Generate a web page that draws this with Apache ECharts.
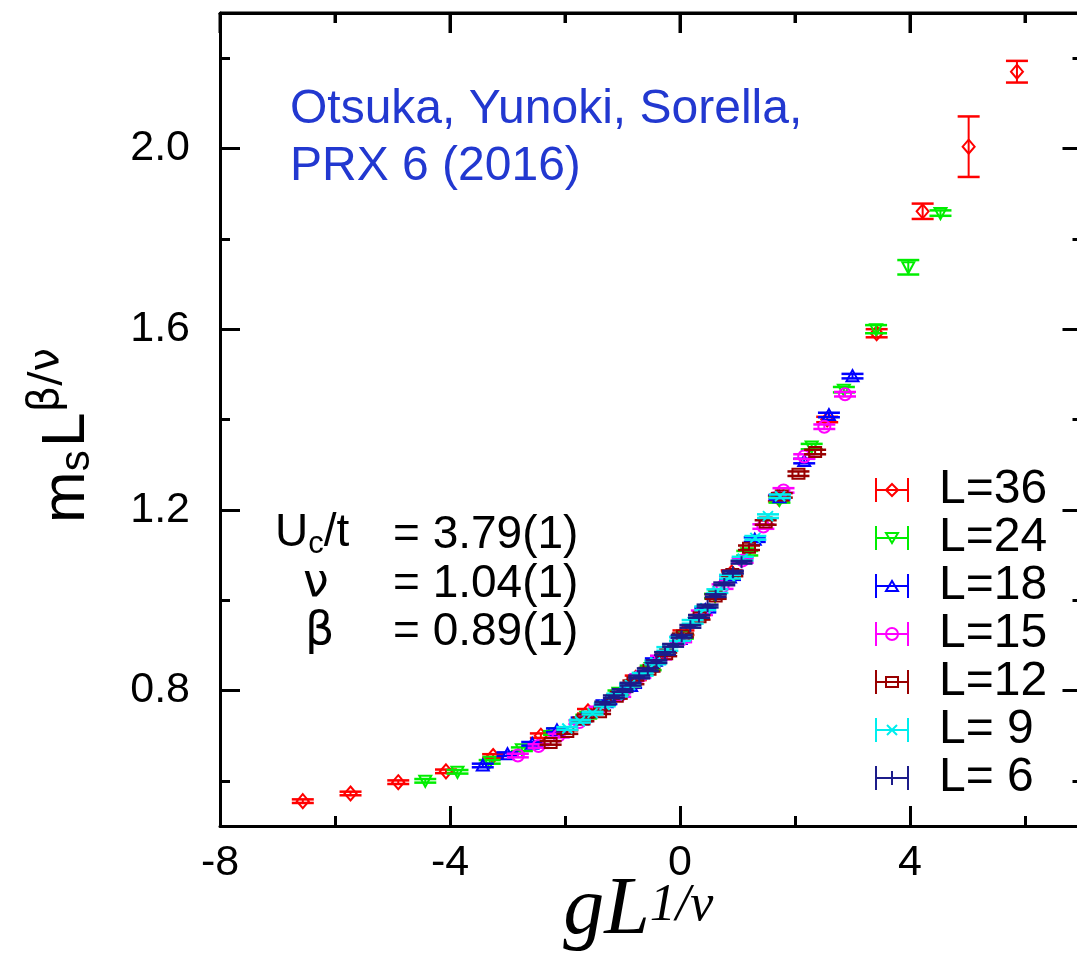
<!DOCTYPE html>
<html>
<head>
<meta charset="utf-8">
<script src="https://cdn.jsdelivr.net/npm/echarts@6/dist/echarts.min.js"></script>
<style>
  html, body { margin: 0; padding: 0; background: #fff; }
  #main { width: 1077px; height: 960px; }
</style>
</head>
<body>
<div id="main"></div>
<script>
// tick positions
const xMajorTicks = [-8, -4, 0, 4];
const xMinorTicks = [-6, -2, 2, 6];
const yMajorTicks = [0.8, 1.2, 1.6, 2.0];
const yMinorTicks = [0.6, 1.0, 1.4, 1.8, 2.2];

// L=36
const x36 = [-6.56, -5.73, -4.90, -4.07, -3.25, -2.42, -1.60, -0.77, 0.06, 0.90, 1.72, 2.56, 3.42, 4.22, 5.02, 5.86];
const y36 = [0.555, 0.572, 0.597, 0.621, 0.655, 0.700, 0.754, 0.828, 0.928, 1.061, 1.225, 1.400, 1.591, 1.861, 2.004, 2.170];
const e36 = [0.004, 0.004, 0.004, 0.004, 0.004, 0.005, 0.005, 0.005, 0.005, 0.005, 0.006, 0.006, 0.009, 0.017, 0.067, 0.024];
// L=24
const x24 = [-4.43, -3.87, -3.31, -2.75, -2.19, -1.63, -1.07, -0.51, 0.05, 0.61, 1.17, 1.73, 2.29, 2.85, 3.41, 3.97, 4.53];
const y24 = [0.600, 0.620, 0.642, 0.670, 0.706, 0.742, 0.795, 0.850, 0.920, 1.009, 1.104, 1.222, 1.340, 1.466, 1.600, 1.737, 1.857];
const e24 = [0.004, 0.004, 0.004, 0.004, 0.004, 0.004, 0.005, 0.005, 0.005, 0.005, 0.005, 0.006, 0.006, 0.006, 0.009, 0.016, 0.006];
// L=18
const x18 = [-3.43, -3.00, -2.57, -2.14, -1.71, -1.28, -0.85, -0.42, 0.01, 0.44, 0.87, 1.30, 1.73, 2.16, 2.59, 3.00];
const y18 = [0.634, 0.659, 0.682, 0.712, 0.736, 0.774, 0.810, 0.866, 0.914, 0.978, 1.050, 1.134, 1.228, 1.308, 1.410, 1.496];
const e18 = [0.004, 0.004, 0.004, 0.004, 0.004, 0.004, 0.004, 0.005, 0.005, 0.005, 0.005, 0.005, 0.005, 0.005, 0.005, 0.005];
// L=15
const x15 = [-2.82, -2.46, -2.11, -1.75, -1.40, -1.04, -0.69, -0.33, 0.02, 0.38, 0.74, 1.09, 1.45, 1.80, 2.16, 2.51, 2.87];
const y15 = [0.656, 0.677, 0.700, 0.730, 0.760, 0.790, 0.832, 0.873, 0.912, 0.972, 1.030, 1.088, 1.163, 1.243, 1.318, 1.384, 1.456];
const e15 = [0.004, 0.004, 0.004, 0.004, 0.004, 0.004, 0.004, 0.004, 0.005, 0.005, 0.005, 0.005, 0.005, 0.005, 0.005, 0.005, 0.005];
// L=12
const x12 = [-2.25, -1.96, -1.68, -1.39, -1.10, -0.81, -0.53, -0.24, 0.05, 0.34, 0.62, 0.91, 1.20, 1.49, 1.77, 2.06, 2.35];
const y12 = [0.684, 0.708, 0.736, 0.752, 0.786, 0.818, 0.846, 0.880, 0.922, 0.962, 1.008, 1.058, 1.116, 1.172, 1.232, 1.280, 1.328];
const e12 = [0.004, 0.004, 0.004, 0.004, 0.004, 0.004, 0.004, 0.004, 0.004, 0.005, 0.005, 0.005, 0.005, 0.005, 0.005, 0.005, 0.005];
// L=9
const x9 = [-1.96, -1.74, -1.52, -1.31, -1.09, -0.87, -0.65, -0.43, -0.22, 0.00, 0.22, 0.44, 0.65, 0.87, 1.09, 1.31, 1.53, 1.74];
const y9 = [0.716, 0.732, 0.750, 0.768, 0.790, 0.812, 0.836, 0.862, 0.892, 0.914, 0.952, 0.982, 1.020, 1.052, 1.092, 1.138, 1.186, 1.230];
const e9 = [0.003, 0.003, 0.003, 0.003, 0.003, 0.003, 0.003, 0.004, 0.004, 0.004, 0.004, 0.004, 0.004, 0.004, 0.004, 0.004, 0.004, 0.004];
// L=6
const x6 = [-1.30, -1.15, -1.00, -0.86, -0.71, -0.56, -0.41, -0.26, -0.12, 0.03, 0.18, 0.33, 0.48, 0.62, 0.77, 0.92, 1.07];
const y6 = [0.772, 0.786, 0.800, 0.814, 0.830, 0.846, 0.864, 0.882, 0.900, 0.920, 0.942, 0.964, 0.987, 1.010, 1.036, 1.062, 1.084];
const e6 = [0.003, 0.003, 0.003, 0.003, 0.003, 0.003, 0.003, 0.003, 0.003, 0.003, 0.003, 0.003, 0.003, 0.003, 0.003, 0.003, 0.003];

const sans = 'Liberation Sans';
const serif = 'Liberation Serif';

const groups = [
  {name: 'L=36', xs: x36, ys: y36, es: e36, color: '#ff0000', shape: 'diamond'},
  {name: 'L=24', xs: x24, ys: y24, es: e24, color: '#00ee00', shape: 'tridown'},
  {name: 'L=18', xs: x18, ys: y18, es: e18, color: '#0000ff', shape: 'triup'},
  {name: 'L=15', xs: x15, ys: y15, es: e15, color: '#ff00ff', shape: 'circle'},
  {name: 'L=12', xs: x12, ys: y12, es: e12, color: '#990000', shape: 'square'},
  {name: 'L= 9', xs: x9, ys: y9, es: e9, color: '#00eeee', shape: 'cross'},
  {name: 'L= 6', xs: x6, ys: y6, es: e6, color: '#1c1c8a', shape: 'plus'}
];

// legend icons: error bar with the point symbol in the middle
const barIcon = 'M0,0L0,24M32,0L32,24M0,12L32,12';
const iconMark = {
  diamond: 'M16,6L22,12L16,18L10,12Z',
  tridown: 'M10,7L22,7L16,17Z',
  triup: 'M10,17L22,17L16,7Z',
  circle: 'M22,12A6,6,0,1,1,10,12A6,6,0,1,1,22,12Z',
  square: 'M10,7L22,7L22,17L10,17Z',
  cross: 'M11,7L21,17M21,7L11,17',
  plus: 'M16,5L16,19'
};

function marker(shape, cx, cy, c) {
  let st = {stroke: c, fill: 'none', lineWidth: 2};
  switch (shape) {
    case 'diamond':
      return {type: 'polygon', shape: {points: [[cx, cy - 7], [cx + 6, cy], [cx, cy + 7], [cx - 6, cy]]}, style: st};
    case 'tridown':
      return {type: 'polygon', shape: {points: [[cx - 6, cy - 5], [cx + 6, cy - 5], [cx, cy + 6]]}, style: st};
    case 'triup':
      return {type: 'polygon', shape: {points: [[cx - 6, cy + 5], [cx + 6, cy + 5], [cx, cy - 6]]}, style: st};
    case 'circle':
      return {type: 'circle', shape: {cx: cx, cy: cy, r: 6}, style: st};
    case 'square':
      return {type: 'rect', shape: {x: cx - 6, y: cy - 5, width: 12, height: 10}, style: st};
    case 'cross':
      return {type: 'path', shape: {pathData: 'M' + (cx - 5) + ',' + (cy - 5) + 'L' + (cx + 5) + ',' + (cy + 5) +
        'M' + (cx + 5) + ',' + (cy - 5) + 'L' + (cx - 5) + ',' + (cy + 5)}, style: st};
    default:
      return {type: 'path', shape: {pathData: 'M' + (cx - 6) + ',' + cy + 'L' + (cx + 6) + ',' + cy +
        'M' + cx + ',' + (cy - 6) + 'L' + cx + ',' + (cy + 6)}, style: st};
  }
}

function makeRender(shape) {
  return function (params, api) {
    let x = api.value(0), y = api.value(1), e = api.value(2);
    let c = api.visual('color');
    let p = api.coord([x, y]);
    let lo = api.coord([x, y - e]);
    let hi = api.coord([x, y + e]);
    let w = 11;
    let cap = {stroke: c, lineWidth: 2.5};
    return {
      type: 'group',
      children: [
        {type: 'line', shape: {x1: p[0], y1: lo[1], x2: p[0], y2: hi[1]}, style: {stroke: c, lineWidth: 2}},
        {type: 'line', shape: {x1: p[0] - w, y1: lo[1], x2: p[0] + w, y2: lo[1]}, style: cap},
        {type: 'line', shape: {x1: p[0] - w, y1: hi[1], x2: p[0] + w, y2: hi[1]}, style: cap},
        marker(shape, p[0], p[1], c)
      ]
    };
  };
}

let series = groups.map(function (g) {
  return {
    name: g.name,
    type: 'custom',
    xAxisIndex: 0,
    yAxisIndex: 0,
    itemStyle: {color: g.color},
    renderItem: makeRender(g.shape),
    encode: {x: 0, y: 1},
    data: g.xs.map(function (x, i) { return [x, g.ys[i], g.es[i]]; })
  };
});

function axisLine(show) {
  return {show: show, onZero: false, lineStyle: {color: '#000', width: 3}};
}
function tick(ticks, len) {
  return {show: true, inside: true, length: len, lineStyle: {color: '#000', width: 3}, customValues: ticks};
}

function xAx(pos, ticks, len, main) {
  return {
    type: 'value', position: pos, min: -8, max: 7, gridIndex: 0,
    axisLine: axisLine(main),
    axisTick: tick(ticks, len),
    axisLabel: {show: main && pos === 'bottom', customValues: ticks, fontSize: 43, lineHeight: 34, color: '#000', fontFamily: sans, margin: 20},
    splitLine: {show: false}
  };
}
function yAx(pos, ticks, len, main) {
  return {
    type: 'value', position: pos, min: 0.5, max: 2.3, gridIndex: 0,
    axisLine: axisLine(main),
    axisTick: tick(ticks, len),
    axisLabel: {show: main && pos === 'left', customValues: ticks, fontSize: 43, color: '#000', fontFamily: sans, margin: 30,
      formatter: function (v) { return v.toFixed(1); }},
    splitLine: {show: false}
  };
}

let xAxes = [
  xAx('bottom', xMajorTicks, 20, true),
  xAx('top', xMajorTicks, 20, true),
  xAx('bottom', xMinorTicks, 10, false),
  xAx('top', xMinorTicks, 10, false)
];
xAxes[0].name = '{i|gL}{sup|1/ν}';
xAxes[0].nameLocation = 'middle';
xAxes[0].nameGap = 54;
xAxes[0].nameMoveOverlap = false;
xAxes[0].nameTextStyle = {
  padding: [0, 26, 0, 0],
  rich: {
    i: {fontFamily: serif, fontStyle: 'italic', fontSize: 82, color: '#000', lineHeight: 72, verticalAlign: 'bottom'},
    sup: {fontFamily: serif, fontStyle: 'italic', fontSize: 52, color: '#000', lineHeight: 30, verticalAlign: 'top'}
  }
};

let yAxes = [
  yAx('left', yMajorTicks, 20, true),
  yAx('right', yMajorTicks, 20, true),
  yAx('left', yMinorTicks, 10, false),
  yAx('right', yMinorTicks, 10, false)
];
yAxes[0].name = '{m|m}{s|s} {L|L}{sup|β/ν}';
yAxes[0].nameLocation = 'middle';
yAxes[0].nameRotate = 90;
yAxes[0].nameGap = 122;
yAxes[0].nameMoveOverlap = false;
yAxes[0].nameTextStyle = {
  padding: [0, 32, 0, 0],
  rich: {
    m: {fontFamily: sans, fontSize: 62, color: '#000', lineHeight: 72, verticalAlign: 'bottom'},
    s: {fontFamily: sans, fontSize: 42, color: '#000', lineHeight: 32, verticalAlign: 'bottom'},
    L: {fontFamily: sans, fontSize: 62, color: '#000', lineHeight: 72, verticalAlign: 'bottom'},
    sup: {fontFamily: 'DejaVu Sans', fontSize: 42, color: '#000', lineHeight: 34, verticalAlign: 'top'}
  }
};

let texts = [
  {type: 'text', x: 290, y: 110, style: {text: 'Otsuka, Yunoki, Sorella,', fill: '#2238d0', font: '48px "Liberation Sans"', verticalAlign: 'middle'}},
  {type: 'text', x: 290, y: 167, style: {text: 'PRX 6 (2016)', fill: '#2238d0', font: '48px "Liberation Sans"', verticalAlign: 'middle'}},
  {type: 'text', x: 275, y: 535, style: {
    text: '{a|U}{b|c}{a|/t}', verticalAlign: 'middle',
    rich: {
      a: {fontFamily: sans, fontSize: 46, color: '#000', lineHeight: 50, verticalAlign: 'top'},
      b: {fontFamily: sans, fontSize: 31, color: '#000', lineHeight: 30, verticalAlign: 'bottom'}
    }
  }},
  {type: 'text', x: 393, y: 535, style: {text: '= 3.79(1)', fill: '#000', font: '46px "Liberation Sans"', lineHeight: 40, verticalAlign: 'middle'}},
  {type: 'text', x: 303, y: 584, style: {text: 'ν', fill: '#000', font: '46px "DejaVu Sans"', lineHeight: 40, verticalAlign: 'middle'}},
  {type: 'text', x: 393, y: 584, style: {text: '= 1.04(1)', fill: '#000', font: '46px "Liberation Sans"', lineHeight: 40, verticalAlign: 'middle'}},
  {type: 'text', x: 305, y: 632, style: {text: 'β', fill: '#000', font: '46px "DejaVu Sans"', lineHeight: 40, verticalAlign: 'middle'}},
  {type: 'text', x: 393, y: 632, style: {text: '= 0.89(1)', fill: '#000', font: '46px "Liberation Sans"', lineHeight: 40, verticalAlign: 'middle'}}
];

let myChart = echarts.init(document.getElementById('main'));
let option = {
  animation: false,
  backgroundColor: '#fff',
  grid: {left: 220, top: 13, width: 862.5, height: 813, containLabel: false, outerBoundsMode: 'none'},
  xAxis: xAxes,
  yAxis: yAxes,
  legend: {
    orient: 'vertical', left: 870, top: 461,
    itemWidth: 32, itemHeight: 24, itemGap: 0,
    selectedMode: false,
    textStyle: {fontSize: 48, lineHeight: 46, color: '#000', fontFamily: sans, padding: [0, 0, 0, 26]},
    data: groups.map(function (g) {
      return {
        name: g.name,
        icon: 'path://' + barIcon + iconMark[g.shape],
        itemStyle: {color: 'transparent', borderColor: g.color, borderWidth: 2}
      };
    })
  },
  graphic: texts,
  series: series
};
myChart.setOption(option);

// top edge of the frame, placed through the axis scales (the top axis does not always show up)
let toX = function (v) { return myChart.convertToPixel({xAxisIndex: 0}, v); };
let yTop = myChart.convertToPixel({yAxisIndex: 0}, 2.3);
let frameStyle = {stroke: '#000', lineWidth: 3};
let frame = [{type: 'line', silent: true, shape: {x1: toX(-8), y1: yTop, x2: toX(7), y2: yTop}, style: frameStyle}];
xMajorTicks.forEach(function (v) {
  frame.push({type: 'line', silent: true, shape: {x1: toX(v), y1: yTop, x2: toX(v), y2: yTop + 20}, style: frameStyle});
});
xMinorTicks.forEach(function (v) {
  frame.push({type: 'line', silent: true, shape: {x1: toX(v), y1: yTop, x2: toX(v), y2: yTop + 10}, style: frameStyle});
});
option.graphic = texts.concat(frame);
myChart.setOption(option, true);
</script>
</body>
</html>
